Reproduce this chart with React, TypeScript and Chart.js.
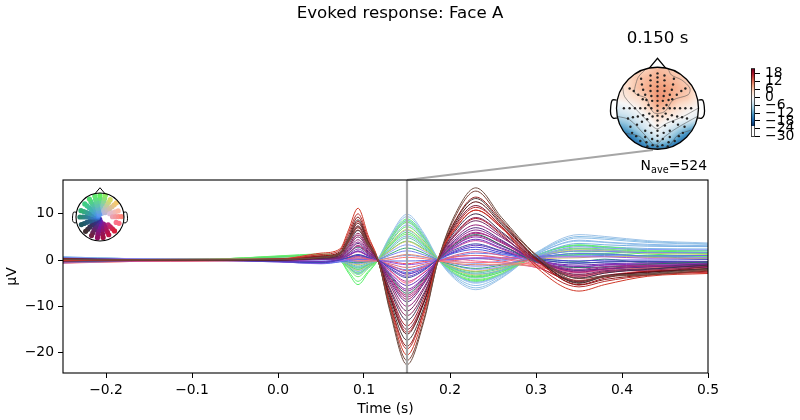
import React, { useEffect, useRef } from "react";
import { Chart, registerables } from "chart.js";

Chart.register(...registerables);

const FONT = "'DejaVu Sans'";
const times = [-0.25, -0.17, -0.08, 0, 0.05, 0.072, 0.082, 0.093, 0.105, 0.116, 0.13, 0.15, 0.17, 0.186, 0.205, 0.23, 0.26, 0.3, 0.35, 0.38, 0.43, 0.5];
const xTicks = [-0.2, -0.1, 0, 0.1, 0.2, 0.3, 0.4, 0.5];
const yTicks = [-20, -10, 0, 10];
const cbTicks = [18, 12, 6, 0, -6, -12, -18, -24, -30];
const cursorTime = 0.15;
const cursorLine = [{ x: cursorTime, y: -24.4 }, { x: cursorTime, y: 17.3 }];
const connectorLine = [{ x: cursorTime, y: 17.3 }, { x: 0.436, y: 23.8 }];

const traces: number[][] = [
  [0.2, 0, 0.1, 0.1, 0.6, 1.6, 4.4, 7.2, 3.5, 0.2, -11, -22.6, -13, -0.2, 9.5, 15.6, 9.2, 1.2, -4, -3.4, -3, -2],
  [0.1, 0.1, 0, 0.2, 0.5, 1.3, 4.2, 6.5, 3.1, 0.1, -10.5, -21.7, -12.5, -0.2, 9, 14.9, 8.7, 1, -4.5, -3.6, -3.2, -2.2],
  [-0.1, 0.1, 0.2, 0.2, 1.5, 2.4, 6.5, 11.2, 5.2, 0.3, -10, -20.5, -11.5, 0.3, 6.5, 10.8, 7, -1.5, -6.7, -5.3, -3.5, -2.9],
  [0.1, 0.1, 0.1, 0.1, 1.2, 2.1, 5.9, 10, 4.7, 0.2, -9.6, -19.2, -10.8, 0.1, 6.9, 11.4, 7.3, -0.9, -5.8, -4.6, -3.3, -2.6],
  [0.3, 0, 0.1, 0.2, 0.9, 1.8, 5.3, 9.3, 4.2, 0, -9.2, -18.6, -10.6, 0, 8.2, 13.6, 8.4, 0.3, -5.4, -4.2, -3.2, -2.4],
  [0.2, -0.1, 0, 0.1, 0.7, 1.5, 4.8, 8.7, 4, 0.1, -8.6, -17.3, -10, -0.1, 8, 13.3, 8, 0.6, -4.9, -3.6, -2.9, -1.8],
  [0, 0.1, 0.1, 0, 0.5, 1.4, 4.3, 8, 3.8, 0.1, -8, -16, -9.1, 0, 7.6, 12.6, 7.7, 0.4, -5, -3.5, -2.6, -1.9],
  [0.1, 0, 0.1, 0.1, 0.6, 1.2, 4, 7.4, 3.4, -0.1, -7.4, -15, -8.7, -0.1, 7.2, 11.8, 7.2, 0.3, -4.7, -3.3, -2.7, -1.4],
  [-0.2, 0.1, 0.1, 0.2, 0.8, 1.3, 3.8, 7, 3.2, 0, -7, -14.2, -8, 0.1, 6.4, 10.8, 6.9, 0, -5.3, -3.9, -2.4, -2.1],
  [0.2, 0.1, -0.1, 0, 0.4, 1, 3.4, 6.4, 3, 0, -6.4, -13, -7.4, 0, 6, 10, 6.1, 0.2, -3.9, -2.8, -2, -1.1],
  [-0.1, 0, 0.1, 0.1, 0.5, 0.9, 3, 5.8, 2.7, 0.1, -6, -12, -7, -0.1, 5.5, 9.2, 5.8, 0.1, -3.5, -2.5, -2.2, -1.4],
  [0.3, 0.1, 0, 0, 0.3, 0.7, 2.6, 5, 2.3, 0, -5.3, -11, -6.2, 0, 5.1, 8.5, 5.2, -0.1, -3.1, -2.3, -1.9, -1],
  [-0.2, -0.1, 0.1, 0.1, 0.3, 0.6, 2.3, 4.4, 2, -0.1, -4.8, -10, -5.8, -0.1, 4.6, 7.6, 4.9, 0.2, -2.6, -1.9, -1.3, -1.5],
  [0.1, 0, -0.1, 0, 0.2, 0.5, 1.9, 3.6, 1.7, 0.1, -4.4, -9, -5, 0, 4.2, 7, 4.3, -0.2, -2.2, -1.9, -1.5, -0.8],
  [0.2, 0, 0, -0.1, 0.2, 0.4, 1.6, 3, 1.4, 0, -3.8, -8, -4.6, 0.1, 3.6, 6, 3.7, 0, -2, -1.4, -1.1, -1.2],
  [-0.3, -0.1, 0, 0.1, 0.4, 0.4, 1.5, 2.8, 1.3, -0.1, -3.4, -7.2, -4, -0.2, 3.3, 5.5, 3.2, -0.4, -1.6, -1.5, -0.9, -0.4],
  [0.1, 0.1, 0, -0.1, 0.1, 0.3, 1.2, 2.4, 1.1, 0.1, -3, -6.3, -3.6, 0, 3, 5, 3, 0.1, -1.4, -1, -0.8, -0.7],
  [-0.1, 0, -0.1, -0.2, -0.3, 0.2, 1, 2, 0.9, 0, -2.7, -5.5, -3.2, 0.1, 2.7, 4.5, 2.6, 0, -1.1, -0.8, -0.6, -0.3],
  [0, -0.2, 0.1, 0, 0.5, 0.5, 1, 1.8, 0.8, -0.1, -2.2, -4.6, -2.7, -0.1, 2.5, 4.2, 2.4, -0.5, -2.4, -2, -1.3, -1.6],
  [0.4, 0.1, 0, -0.3, -0.5, 0.1, 0.6, 1.2, 0.6, 0.1, -1.9, -3.8, -2.2, 0.2, 2.2, 3.5, 2, 0.2, -0.7, -0.4, -0.3, -0.5],
  [-0.4, -0.1, 0, -0.3, -0.6, 0, 0.5, 1, 0.5, 0, -1.4, -3, -1.8, 0.1, 1.7, 2.8, 1.6, 0.4, -0.2, 0, 0, 0.1],
  [0, -0.3, -0.2, 0, 0.4, 0.3, 0.5, 0.8, 0.3, -0.2, -1.1, -2.3, -1.4, -0.3, 1, 1.8, 1, -0.6, -2.8, -2, -1.5, -1.4],
  [-0.5, -0.2, -0.1, 0.2, 0.8, 0.4, 0.4, 0.5, 0.2, -0.2, -0.8, -1.6, -0.9, -0.3, 0.7, 1, 0.5, -0.9, -3.3, -2.5, -1.8, -1.8],
  [0.3, 0.2, 0, -0.4, -0.7, -0.1, 0.1, 0.3, 0.2, 0, -0.5, -1, -0.6, 0, 0.3, 0.5, 0.5, 0.6, 0.7, 0.7, 0.4, 0.5],
  [-0.6, -0.2, 0.1, -0.3, -0.8, -0.4, -0.1, 0.1, 0.1, -0.1, -0.2, -0.2, -0.1, 0.1, 0.2, 0.3, 0.2, 0.7, 1.4, 1.3, 0.9, 1],
  [-0.7, -0.3, -0.2, 0.1, 0.9, 0.5, 0.3, 0, -0.1, -0.2, 0.1, 0.6, 0.3, -0.2, -0.4, -0.5, -0.6, -1, -3.8, -2.8, -2, -2.4],
  [-0.5, -0.3, -0.1, 0.2, 1.1, 0.6, 0.1, -0.2, -0.2, -0.1, 0.5, 1.2, 0.7, -0.1, -0.7, -1, -1, -1.3, -3.2, -2.6, -1.6, -1.9],
  [0.5, 0.2, 0.1, -0.2, -0.4, 0, -0.2, -0.3, -0.2, 0, 1, 2, 1.1, 0, -0.8, -1.3, -0.9, 0.7, 2, 1.9, 1.6, 1.6],
  [0.1, 0.1, 0.1, 0.3, 0.4, -0.1, -0.4, -0.6, -0.3, 0, 1.3, 2.6, 1.5, 0, -1.1, -1.8, -1.1, 0.2, -0.3, 0.2, -0.6, -0.6],
  [0.5, 0.2, 0.1, -0.1, -0.2, -0.2, -0.5, -0.8, -0.4, 0.1, 1.7, 3.3, 1.9, 0.1, -1.2, -2, -1.4, 0.8, 2.9, 2.6, 2.3, 2.2],
  [0.2, 0.1, 0.1, 0.3, 0.5, 0, -0.6, -1, -0.5, 0.1, 2, 4, 2.2, 0.1, -1.5, -2.4, -1.5, 0.2, 0.5, 0.8, 0.6, 0.2],
  [0.3, 0.1, 0.1, 0.4, 0.6, 0, -0.7, -1.3, -0.6, 0.1, 2.4, 4.8, 2.7, 0.2, -1.8, -2.8, -1.8, 0.3, 1.5, 1.4, 0.9, 1],
  [0.6, 0.2, 0.2, 0.1, 0.2, -0.2, -0.9, -1.5, -0.8, 0, 2.7, 5.2, 3, 0.2, -1.9, -3, -2.2, 1, 3.6, 3.3, 3, 2.9],
  [0.3, 0.1, 0.1, 0.7, 1, 0.1, -1.1, -2, -1, 0, 3.1, 6, 3.4, 0.2, -2.2, -3.6, -2.3, 0.5, 1.2, 1.4, 0.8, 0.3],
  [0.3, 0.1, 0.1, 0.4, 0.7, 0, -1.2, -2.2, -1.1, 0.1, 3.4, 6.6, 3.8, 0.3, -2, -3.2, -2, 0.6, 2.2, 2, 1.5, 1.2],
  [0.3, 0.1, 0.2, 0.7, 1, 0, -1.5, -2.8, -1.4, 0, 3.7, 7.2, 4.1, 0.2, -2.4, -3.7, -2.6, 0.6, 1.9, 1.8, 1.3, 0.8],
  [0.7, 0.3, 0.2, 0.2, 0.3, -0.2, -1.3, -2.4, -1.2, 0.1, 3.9, 7.6, 4.4, 0.2, -3, -4.8, -3.1, 1.2, 4.3, 3.9, 3.4, 3.1],
  [0.4, 0.1, 0.2, 0.8, 1.1, 0, -1.9, -3.6, -1.8, -0.1, 4.2, 8.2, 4.7, 0.2, -2.7, -4.2, -2.9, 0.8, 2.6, 2.4, 1.8, 1.5],
  [0.6, 0.3, 0.2, 0.2, 0.3, -0.2, -1.5, -2.8, -1.5, 0.1, 4.4, 8.6, 5, 0.3, -3.4, -5.5, -3.4, 1.4, 4.8, 4.5, 3.8, 3.4],
  [0.3, 0.1, 0.2, 0.8, 1.2, 0, -2.4, -4.6, -2.4, -0.1, 4.6, 8.9, 5.1, 0.2, -2.9, -4.4, -3, 1, 3.3, 2.9, 2.2, 2],
  [0.6, 0.3, 0.2, 0.2, 0.3, -0.2, -1.6, -3, -1.6, 0.2, 4.9, 9.4, 5.4, 0.3, -3.7, -6, -3.7, 1.5, 5.1, 4.8, 4, 3.5],
  [0.7, 0.3, 0.2, 0.2, 0.4, -0.1, -1.6, -3, -1.6, 0.2, 5.1, 9.9, 5.7, 0.3, -4, -6.4, -3.9, 1.6, 5.5, 5.1, 4.2, 3.7],
  [0.4, 0.2, 0.2, 0.9, 1.3, 0.1, -2.8, -5.3, -2.7, -0.1, 4.4, 8.5, 4.9, 0.1, -3, -4.6, -3.1, 1, 3.1, 2.7, 2, 1.7],
  [-0.3, -0.2, 0, 0.2, 0.9, 0.7, 0.8, 1, 0.4, -0.3, -2.3, -5, -2.6, -0.4, 0.6, 1, 0.3, -1.2, -3.7, -2.8, -2, -2.7],
  [-0.6, -0.3, 0.1, 0.2, 1, 0.6, 0.2, -0.4, -0.4, -0.3, -1.2, -3.1, -1.5, -0.4, 0.2, -0.2, -0.6, -1.5, -2.6, -2.2, -1.4, -2],
  [0.3, 0, -0.1, 0.1, 0.3, 0.3, 1.4, 3.2, 1.5, -0.1, -3.7, -7.6, -4.3, -0.2, 3, 5.3, 3.2, -0.2, -2.7, -1.9, -1.5, -1.3],
  [0.1, 0.1, 0.1, 0, 0.2, 0.6, 2.1, 3.9, 1.9, 0, -3.2, -6.7, -3.8, 0, 3.9, 6.5, 4.1, 0.1, -2.3, -1.6, -1.2, -0.9],
  [0.2, 0, 0.1, -0.2, -0.4, 0.1, 0.5, 1.1, 0.6, 0, -1.1, -2.1, -1.2, 0.1, 0.8, 1.5, 1.2, 0.9, 0.9, 1, 0.7, 1],
  [-0.3, -0.1, 0.1, 0.1, 0.9, 1.5, 4.6, 8.4, 4, 0.1, -7.7, -15.6, -8.9, 0, 5.2, 9, 5.5, -1, -4.6, -3.5, -2.5, -2],
  [0.2, 0, 0.1, 0, 0.3, 0.8, 2.9, 5.4, 2.5, 0, -4.1, -8.5, -4.7, -0.1, 3.4, 5.8, 3.9, -0.4, -3.4, -2.6, -1.8, -1.6],
  [-0.2, -0.1, 0, -0.2, -0.3, 0.2, 1, 1.9, 0.9, 0, -1.7, -3.5, -2, 0.1, 1.9, 3.2, 1.9, -0.2, -1.5, -1.1, -0.9, -0.9],
  [-0.4, -0.2, -0.1, -0.4, -0.7, -0.3, 0.2, 0.7, 0.3, 0, -1.4, -2.7, -1.5, 0, 1.5, 2.3, 1.3, 0.1, -0.6, -0.4, -0.3, -0.4],
  [0.4, 0.1, 0.1, 0.1, 0.1, -0.1, -0.3, -0.5, -0.2, 0, 0.5, 1, 0.6, 0.1, -0.3, -0.7, -0.2, 0.9, 2.5, 2.2, 1.9, 2],
  [0.3, 0.1, 0.1, 0.6, 0.9, 0.1, -0.9, -1.7, -0.9, 0, 2.1, 4.1, 2.4, 0.2, -1.6, -2.5, -1.6, 0.4, 1.1, 1.2, 0.9, 0.7],
  [0.3, 0.1, 0.1, 0.7, 1, 0.1, -1.6, -3.1, -1.6, 0, 3, 5.6, 3.2, 0.2, -1.9, -3.4, -2.1, 0.7, 2.4, 2.2, 1.6, 1.4],
  [0.5, 0.2, 0.2, 0.2, 0.2, -0.1, -1.1, -2, -1, 0.1, 3.3, 6.4, 3.7, 0.2, -2.4, -3.9, -2.5, 0.9, 3.2, 2.9, 2.5, 2.4],
  [0.6, 0.3, 0.2, 0.2, 0.3, -0.2, -1.3, -2.5, -1.3, 0.1, 4.3, 8.1, 4.6, 0.2, -3.1, -5, -3.2, 1.3, 4.1, 3.8, 3.2, 3],
  [-0.5, -0.2, 0, 0.1, 0.6, 0.4, 0.3, 0.2, 0.1, -0.2, -0.3, -0.8, -0.3, -0.2, -0.1, 0.4, -0.2, -1.6, -4.4, -3.4, -2.4, -2.9],
];

const traceColors = [
  "#6d4c41", "#7a3f35", "#d03a2a", "#b83030", "#8b1a1a", "#4a3a3a", "#5a1010", "#7b1f3a", "#a31621", "#3f2f4f",
  "#8e2b5e", "#702963", "#95207a", "#5a2d82", "#a0288c", "#2f6f6a", "#8a2cb0", "#6a2fb5", "#c03f9a", "#3a4aa8",
  "#4b3fd0", "#d85a8a", "#e06a78", "#9a55e0", "#5f70e8", "#ff7a7a", "#e08a70", "#7a80f0", "#3aa878", "#8a9af5",
  "#d0c060", "#60c8a0", "#7ab0e0", "#58e070", "#c8d070", "#60e860", "#8ab8e8", "#78e870", "#90c0e8", "#60f070",
  "#8ec0e6", "#a0c4e8", "#55ee66", "#ff6080", "#e86aa0", "#b02a70", "#8a2a90", "#6a8af0",
  "#b8252e", "#a82470", "#6f3ac0", "#4a5cd8", "#88a0f0", "#50d080", "#6ee868", "#7fb6e8", "#98c4ec", "#f05060",
];

const cmapStops = ["#053061", "#2166ac", "#4393c3", "#92c5de", "#d1e5f0", "#f7f7f7", "#fddbc7", "#f4a582", "#d6604d", "#b2182b", "#67001f"];
const topoLimit = 22;
const topoGrid = [
  [4, 4, 4, 5, 7, 6, 4, 4, 4],
  [3, 4, 6, 7, 8, 7.5, 6.5, 5, 3],
  [2, 4, 6.2, 8, 9.5, 9, 7.5, 6, 3],
  [1.5, 2.5, 4, 6, 10, 9, 6.5, 5.5, 2],
  [-3, -1.5, 0.5, 4, 7.5, 6, 3.5, 1.5, 0],
  [-7, -6, -3, -0.5, 3.5, 1.5, 0.5, -1, -3],
  [-14, -11, -7, -3.5, 0, -3, -6.5, -10, -13],
  [-21, -18, -13, -8, -4.5, -7, -12.5, -17, -20],
  [-24, -23, -20, -16, -15, -16, -20, -23, -24],
];
const sensors = [
  [0, 0.85], [0, 0.75], [0, 0.64], [0, 0.53], [0, 0.42], [0, 0.3], [0, 0.18], [0, 0.06], [0, -0.06], [0, -0.18], [0, -0.3], [0, -0.42], [0, -0.55], [0, -0.67], [0, -0.8], [0, -0.93],
  [-0.17, 0.8], [-0.17, 0.68], [-0.17, 0.55], [-0.17, 0.42], [-0.15, 0.3], [-0.13, 0.18], [0.17, 0.8], [0.17, 0.68], [0.17, 0.55], [0.17, 0.42], [0.15, 0.3], [0.13, 0.18],
  [-0.4, 0.72], [-0.38, 0.58], [-0.35, 0.45], [-0.3, 0.33], [-0.27, 0.2], [-0.22, 0.08], [0.4, 0.72], [0.38, 0.58], [0.35, 0.45], [0.3, 0.33], [0.27, 0.2], [0.22, 0.08],
  [-0.68, 0.48], [-0.58, 0.42], [-0.47, 0.33], [-0.36, 0.22], [0.68, 0.48], [0.58, 0.42], [0.47, 0.33], [0.36, 0.22],
  [-0.82, 0], [-0.68, 0], [-0.55, 0], [-0.42, 0], [-0.3, 0], [-0.15, 0], [0.15, 0], [0.3, 0], [0.42, 0], [0.55, 0], [0.68, 0], [0.82, 0],
  [-0.72, -0.25], [-0.6, -0.22], [-0.48, -0.2], [-0.35, -0.17], [-0.2, -0.13], [0.72, -0.25], [0.6, -0.22], [0.48, -0.2], [0.35, -0.17], [0.2, -0.13],
  [-0.66, -0.45], [-0.5, -0.4], [-0.38, -0.33], [-0.25, -0.27], [-0.12, -0.2], [0.66, -0.45], [0.5, -0.4], [0.38, -0.33], [0.25, -0.27], [0.12, -0.2],
  [-0.62, -0.6], [-0.52, -0.68], [-0.42, -0.8], [0.62, -0.6], [0.52, -0.68], [0.42, -0.8],
  [-0.3, -0.55], [-0.3, -0.7], [-0.27, -0.83], [-0.25, -0.93], [0.3, -0.55], [0.3, -0.7], [0.27, -0.83], [0.25, -0.93],
  [-0.18, -0.42], [-0.15, -0.6], [-0.13, -0.75], [-0.12, -0.9], [0.18, -0.42], [0.15, -0.6], [0.13, -0.75], [0.12, -0.9],
];
const contours = [
  [[-0.29, 0.95], [-0.43, 0.81], [-0.5, 0.69], [-0.55, 0.37], [-0.27, 0.24], [-0.19, 0.04], [-0.07, -0.12], [0.18, -0.08], [0.38, 0.2], [0.75, 0.33], [0.79, 0.49], [0.59, 0.69], [0.34, 0.81], [0.26, 0.96]],
  [[-0.85, 0.52], [-0.8, 0.28], [-0.51, -0.04], [-0.27, -0.28], [-0.02, -0.5], [0.22, -0.37], [0.63, -0.2], [0.99, 0]],
  [[-0.97, -0.2], [-0.68, -0.28], [-0.31, -0.65], [-0.06, -0.9], [0.18, -0.69], [0.46, -0.49], [0.97, -0.2]],
  [[-0.79, -0.61], [-0.43, -0.69], [-0.15, -0.98], [0.26, -0.93], [0.5, -0.65], [0.83, -0.53]],
];
const nose = [[-0.2, 0.98], [0, 1.22], [0.2, 0.98]];
const leftEar = [[-1, 0.2], [-1.1, 0.2], [-1.14, 0.05], [-1.14, -0.15], [-1.08, -0.24], [-0.99, -0.24]];
const rightEar = [[1, 0.2], [1.1, 0.2], [1.14, 0.05], [1.14, -0.15], [1.08, -0.24], [0.99, -0.24]];

const spokeEndX = [0, 0.24, 0.5, 0.72, 0.9, 0.95, 0.9, 0.68, 0.42, 0.15, -0.12, -0.4, -0.68, -0.88, -0.95, -0.9, -0.72, -0.5, -0.24];
const spokeEndY = [1, 0.97, 0.85, 0.62, 0.3, 0.02, -0.3, -0.65, -0.85, -0.98, -0.98, -0.88, -0.68, -0.36, 0, 0.3, 0.62, 0.85, 0.97];
const spokeOuter = ["#60ee60", "#8fe86a", "#d8e060", "#f0c878", "#ffb8a0", "#ff8a80", "#ff6f80", "#d8203a", "#c01040", "#a01040", "#901060", "#702040", "#403030", "#205860", "#2a8a70", "#30b070", "#40d080", "#50e070", "#60ea70"];
const spokeInner = ["#70a0ff", "#80a8ff", "#a0b0f8", "#a8b0f0", "#c0c0ff", "#d0c0f0", "#e080c0", "#a030c0", "#8020a0", "#7020b0", "#6020c0", "#4030b0", "#3030a0", "#3060b0", "#3a70e0", "#4080e0", "#4890e8", "#5090f0", "#6098f0"];
const spokeStart = [0.12, 0.15, 0.2, 0.3, 0.45, 0.55, 0.75, 0.5, 0.35, 0.22, 0.1, 0.1, 0.1, 0.1, 0.1, 0.1, 0.1, 0.1, 0.12];

function hexToRgb(h: string) {
  return [parseInt(h.slice(1, 3), 16), parseInt(h.slice(3, 5), 16), parseInt(h.slice(5, 7), 16)];
}
function mix(a: string, b: string, t: number) {
  const p = hexToRgb(a), q = hexToRgb(b);
  return `rgb(${p.map((v, i) => Math.round(v + (q[i] - v) * t)).join(",")})`;
}
function cmapRgb(value: number) {
  const u = Math.max(0, Math.min(1, (value + topoLimit) / (2 * topoLimit))) * (cmapStops.length - 1);
  const i = Math.min(cmapStops.length - 2, Math.floor(u));
  const p = hexToRgb(cmapStops[i]), q = hexToRgb(cmapStops[i + 1]);
  return p.map((v, k) => v + (q[k] - v) * (u - i));
}
const minusText = (v: number, digits: number) => (v < 0 ? "\u2212" : "") + Math.abs(v).toFixed(digits);
const pts = (a: number[][]) => a.map(([x, y]) => ({ x, y }));

const framePlugin = {
  id: "frame",
  afterDraw(chart: any) {
    const { ctx, chartArea: a } = chart;
    ctx.save();
    ctx.strokeStyle = "#000";
    ctx.lineWidth = 1.1;
    ctx.strokeRect(a.left, a.top, a.right - a.left, a.bottom - a.top);
    ctx.fillStyle = "#000";
    ctx.textBaseline = "alphabetic";
    ctx.textAlign = "left";
    ctx.font = `13.9px ${FONT}`;
    ctx.fillText("N", a.left + 577.5, 170);
    ctx.font = `9.7px ${FONT}`;
    ctx.fillText("ave", a.left + 588, 173);
    ctx.font = `13.9px ${FONT}`;
    ctx.textAlign = "right";
    ctx.fillText("=524", a.right - 1, 170);
    ctx.restore();
  },
};

const fieldPlugin = {
  id: "field",
  beforeDatasetsDraw(chart: any) {
    const { ctx, scales } = chart;
    const cx = scales.x.getPixelForValue(0), cy = scales.y.getPixelForValue(0);
    const r = Math.abs(scales.x.getPixelForValue(1) - cx);
    const n = Math.ceil(2 * r);
    const off = document.createElement("canvas");
    off.width = off.height = n;
    const oc = off.getContext("2d")!;
    const img = oc.createImageData(n, n);
    const last = topoGrid.length - 1;
    for (let j = 0; j < n; j++) {
      for (let i = 0; i < n; i++) {
        const gx = (i / (n - 1)) * last, gy = (j / (n - 1)) * last;
        const x0 = Math.min(last - 1, Math.floor(gx)), y0 = Math.min(last - 1, Math.floor(gy));
        const fx = gx - x0, fy = gy - y0;
        const v = topoGrid[y0][x0] * (1 - fx) * (1 - fy) + topoGrid[y0][x0 + 1] * fx * (1 - fy) + topoGrid[y0 + 1][x0] * (1 - fx) * fy + topoGrid[y0 + 1][x0 + 1] * fx * fy;
        const c = cmapRgb(v);
        const k = (j * n + i) * 4;
        img.data[k] = c[0]; img.data[k + 1] = c[1]; img.data[k + 2] = c[2]; img.data[k + 3] = 255;
      }
    }
    oc.putImageData(img, 0, 0);
    ctx.save();
    ctx.beginPath();
    ctx.arc(cx, cy, r, 0, Math.PI * 2);
    ctx.clip();
    ctx.drawImage(off, cx - r, cy - r, 2 * r, 2 * r);
    ctx.restore();
  },
};

const hiddenScale = (lim: number) => ({ type: "linear", min: -lim, max: lim, display: false });
const basePlugins = { legend: { display: false }, tooltip: { enabled: false } };

export default function App() {
  const mainRef = useRef<HTMLCanvasElement>(null);
  const topoRef = useRef<HTMLCanvasElement>(null);
  const barRef = useRef<HTMLCanvasElement>(null);
  const headRef = useRef<HTMLCanvasElement>(null);

  useEffect(() => {
    Chart.defaults.font.family = FONT;
    Chart.defaults.color = "#000";
    const tickFont = { size: 13.9, family: FONT };

    const main = new Chart(mainRef.current!, {
      type: "line",
      data: {
        datasets: [
          ...traces.map((row, i) => ({
            data: row.map((y, k) => ({ x: times[k], y })),
            borderColor: traceColors[i],
            borderWidth: 1,
            cubicInterpolationMode: "monotone",
            pointRadius: 0,
          })),
          { data: cursorLine, borderColor: "#a6a6a6", borderWidth: 2.2, pointRadius: 0, order: -1 },
          { data: connectorLine, borderColor: "#a6a6a6", borderWidth: 2, pointRadius: 0, clip: false, order: -1 },
        ],
      },
      options: {
        animation: false, responsive: false, devicePixelRatio: 1,
        layout: { autoPadding: false, padding: 0 },
        plugins: {
          ...basePlugins,
          title: { display: true, text: "Evoked response: Face A", color: "#000", font: { size: 16.67, family: FONT, weight: "normal" }, padding: { top: 4, bottom: 156 } },
        },
        scales: {
          x: {
            type: "linear", min: -0.25, max: 0.5,
            afterBuildTicks: (s: any) => { s.ticks = xTicks.map((value) => ({ value })); },
            afterFit: (s: any) => { s.height = 47; },
            ticks: { font: tickFont, maxRotation: 0, autoSkip: false, padding: 4, callback: (v: any) => minusText(Number(v), 1) },
            grid: { drawOnChartArea: false, tickLength: 5, tickColor: "#000", tickWidth: 1 },
            border: { display: false },
            title: { display: true, text: "Time (s)", font: tickFont, padding: { top: 0, bottom: 2 } },
          },
          y: {
            type: "linear", min: -24.4, max: 17.3,
            afterBuildTicks: (s: any) => { s.ticks = yTicks.map((value) => ({ value })); },
            afterFit: (s: any) => { s.width = 63; },
            ticks: { font: tickFont, autoSkip: false, padding: 4, callback: (v: any) => minusText(Number(v), 0) },
            grid: { drawOnChartArea: false, tickLength: 5, tickColor: "#000", tickWidth: 1 },
            border: { display: false },
            title: { display: true, text: "\u00b5V", font: tickFont, padding: { top: 4, bottom: 0 } },
          },
          spacer: {
            type: "linear", position: "right", min: 0, max: 1,
            afterBuildTicks: (s: any) => { s.ticks = []; },
            afterFit: (s: any) => { s.width = 92; },
            ticks: { display: false },
            grid: { display: false },
            border: { display: false },
          },
        },
      } as any,
      plugins: [framePlugin],
    } as any);

    const topo = new Chart(topoRef.current!, {
      type: "scatter",
      data: {
        datasets: [
          { data: [{ x: 0, y: 0 }], pointRadius: 41, pointBackgroundColor: "transparent", pointBorderColor: "#000", pointBorderWidth: 1.3, clip: false },
          { data: pts(nose), showLine: true, borderColor: "#000", borderWidth: 1.3, pointRadius: 0, clip: false },
          { data: pts(leftEar), showLine: true, borderColor: "#000", borderWidth: 1.3, pointRadius: 0, tension: 0.3, clip: false },
          { data: pts(rightEar), showLine: true, borderColor: "#000", borderWidth: 1.3, pointRadius: 0, tension: 0.3, clip: false },
          { data: pts(sensors), pointRadius: 1.2, pointBackgroundColor: "#222", pointBorderWidth: 0, clip: false },
          ...contours.map((c) => ({ data: pts(c), showLine: true, borderColor: "rgba(80,80,80,0.8)", borderWidth: 0.7, pointRadius: 0, tension: 0.3, clip: false })),
        ],
      },
      options: {
        animation: false, responsive: false, devicePixelRatio: 1,
        layout: { autoPadding: false, padding: 0 },
        plugins: {
          ...basePlugins,
          title: { display: true, text: "0.150 s", color: "#000", font: { size: 16.67, family: FONT, weight: "normal" }, padding: { top: 13, bottom: 1.5 } },
        },
        scales: { x: hiddenScale(57.5 / 41), y: hiddenScale(57.75 / 41) },
      } as any,
      plugins: [fieldPlugin],
    } as any);

    const bar = new Chart(barRef.current!, {
      type: "bar",
      data: {
        labels: ["\u00b5V"],
        datasets: [{
          data: [[-30, 22]],
          barPercentage: 1, categoryPercentage: 1,
          borderColor: "#000", borderWidth: 1, borderSkipped: false,
          backgroundColor: (c: any) => {
            const a = c.chart.chartArea;
            if (!a) return "#fff";
            const g = c.chart.ctx.createLinearGradient(0, a.top, 0, a.bottom);
            const y = c.chart.scales.y;
            const stop = (v: number) => (y.getPixelForValue(v) - a.top) / (a.bottom - a.top);
            cmapStops.forEach((col, i) => {
              const v = topoLimit - (i / (cmapStops.length - 1)) * 2 * topoLimit;
              g.addColorStop(stop(v), cmapStops[cmapStops.length - 1 - i]);
            });
            g.addColorStop(Math.min(1, stop(-topoLimit) + 0.001), "#fff");
            g.addColorStop(1, "#fff");
            return g;
          },
        }],
      },
      options: {
        animation: false, responsive: false, devicePixelRatio: 1,
        layout: { autoPadding: false, padding: { top: 8, bottom: 10, left: 6, right: 0 } },
        plugins: basePlugins,
        scales: {
          x: { display: false },
          y: {
            position: "right", min: -30, max: 22,
            afterBuildTicks: (s: any) => { s.ticks = cbTicks.map((value) => ({ value })); },
            afterFit: (s: any) => { s.width = 45; },
            ticks: { font: tickFont, autoSkip: false, padding: 5, callback: (v: any) => minusText(Number(v), 0) },
            grid: { drawOnChartArea: false, tickLength: 5, tickColor: "#000", tickWidth: 1 },
            border: { display: false },
          },
        },
      } as any,
    } as any);

    const dots: { x: number; y: number }[] = [];
    const dotColors: string[] = [];
    spokeEndX.forEach((ex, i) => {
      for (let f = spokeStart[i]; f <= 0.97; f += 0.13) {
        dots.push({ x: ex * f, y: spokeEndY[i] * f });
        dotColors.push(mix(spokeInner[i], spokeOuter[i], (f - 0.1) / 0.8));
      }
    });
    const head = new Chart(headRef.current!, {
      type: "scatter",
      data: {
        datasets: [
          { data: [{ x: 0, y: 0 }], pointRadius: 24, pointBackgroundColor: "transparent", pointBorderColor: "#000", pointBorderWidth: 1.1, clip: false },
          { data: pts(nose), showLine: true, borderColor: "#000", borderWidth: 1, pointRadius: 0, clip: false },
          { data: pts(leftEar), showLine: true, borderColor: "#000", borderWidth: 1, pointRadius: 0, tension: 0.3, clip: false },
          { data: pts(rightEar), showLine: true, borderColor: "#000", borderWidth: 1, pointRadius: 0, tension: 0.3, clip: false },
          { data: dots, pointRadius: 2.6, pointBackgroundColor: dotColors, pointBorderWidth: 0, clip: false },
        ],
      },
      options: {
        animation: false, responsive: false, devicePixelRatio: 1,
        layout: { autoPadding: false, padding: 0 },
        plugins: basePlugins,
        scales: { x: hiddenScale(32 / 24), y: hiddenScale(32 / 24) },
      } as any,
    } as any);

    return () => { main.destroy(); topo.destroy(); bar.destroy(); head.destroy(); };
  }, []);

  const abs = (left: number, top: number): React.CSSProperties => ({ position: "absolute", left, top });
  return (
    <div style={{ position: "absolute", left: 0, top: 0, width: 800, height: 420, background: "#fff", overflow: "hidden" }}>
      <canvas ref={mainRef} width={800} height={420} style={abs(0, 0)} />
      <canvas ref={topoRef} width={115} height={150} style={abs(600, 16)} />
      <canvas ref={barRef} width={55} height={95} style={abs(745, 55)} />
      <canvas ref={headRef} width={64} height={64} style={abs(68, 185)} />
    </div>
  );
}
